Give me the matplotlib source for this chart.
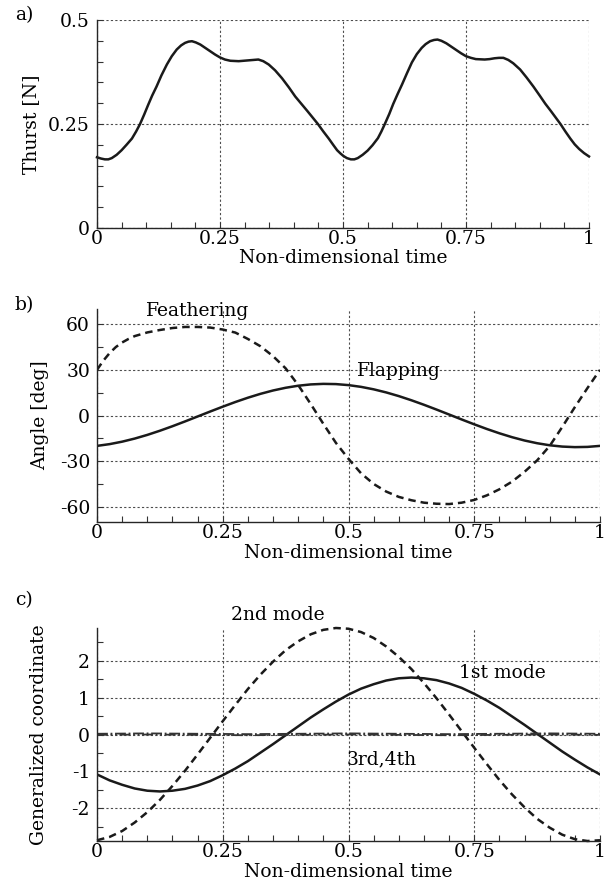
import matplotlib
matplotlib.use("Agg")
import matplotlib.pyplot as plt
from matplotlib.ticker import MultipleLocator, FormatStrFormatter
import numpy as np

plt.rcParams['font.family'] = ['DejaVu Serif']
plt.rcParams['font.size'] = 13.5
plt.rcParams['axes.unicode_minus'] = False

# a) thrust
t_thrust = [0, 0.008, 0.016, 0.023, 0.03, 0.04, 0.05, 0.06, 0.071, 0.0795, 0.0875,
            0.096, 0.104, 0.112, 0.121, 0.131, 0.142, 0.152, 0.162, 0.171, 0.179,
            0.186, 0.193, 0.201, 0.21, 0.22, 0.23, 0.24, 0.25, 0.26, 0.271, 0.288,
            0.298, 0.308, 0.318, 0.328, 0.338, 0.349, 0.362, 0.376, 0.39, 0.403,
            0.415, 0.427, 0.438, 0.449, 0.46, 0.471, 0.48, 0.488, 0.495, 0.501,
            0.508, 0.516, 0.523, 0.53, 0.54, 0.55, 0.56, 0.571, 0.578, 0.585,
            0.594, 0.602, 0.611, 0.62, 0.63, 0.64, 0.65, 0.66, 0.668, 0.677,
            0.685, 0.692, 0.70, 0.71, 0.72, 0.73, 0.74, 0.75, 0.76, 0.77, 0.788,
            0.798, 0.808, 0.817, 0.826, 0.836, 0.846, 0.86, 0.873, 0.887, 0.9,
            0.911, 0.922, 0.932, 0.942, 0.952, 0.962, 0.971, 0.98, 0.99, 1.0]
thrust = [0.170, 0.167, 0.165, 0.165, 0.168, 0.176, 0.187, 0.200, 0.215, 0.232, 0.250,
          0.273, 0.296, 0.318, 0.340, 0.367, 0.393, 0.413, 0.429, 0.439, 0.445,
          0.448, 0.449, 0.446, 0.441, 0.433, 0.425, 0.417, 0.410, 0.405, 0.402, 0.401,
          0.402, 0.403, 0.404, 0.405, 0.401, 0.393, 0.379, 0.360, 0.338, 0.316,
          0.299, 0.282, 0.266, 0.250, 0.232, 0.215, 0.200, 0.187, 0.179, 0.173,
          0.168, 0.165, 0.165, 0.168, 0.176, 0.186, 0.199, 0.216, 0.232, 0.250,
          0.274, 0.298, 0.322, 0.345, 0.372, 0.398, 0.418, 0.433, 0.442, 0.449,
          0.452, 0.453, 0.450, 0.444, 0.436, 0.428, 0.420, 0.413, 0.409, 0.406, 0.405,
          0.406, 0.408, 0.409, 0.409, 0.404, 0.396, 0.381, 0.362, 0.340, 0.318,
          0.299, 0.282, 0.266, 0.250, 0.232, 0.215, 0.201, 0.190, 0.180, 0.172]

# b) angles [deg]
t_feather = [0, 0.0125, 0.025, 0.0375, 0.05, 0.0625, 0.075, 0.1, 0.125, 0.15, 0.175,
             0.2, 0.225, 0.25, 0.275, 0.3, 0.325, 0.35, 0.375, 0.4, 0.425, 0.45,
             0.475, 0.5, 0.525, 0.55, 0.575, 0.6, 0.625, 0.65, 0.675, 0.7, 0.725,
             0.75, 0.775, 0.8, 0.825, 0.85, 0.875, 0.9, 0.925, 0.95, 0.975, 1.0]
feathering = [30.0, 36.0, 41.0, 45.0, 48.0, 50.3, 52.2, 54.6, 56.2, 57.5, 58.2,
              58.2, 57.8, 56.5, 54.5, 50.3, 45.5, 39.0, 31.0, 20.0, 7.5, -5.5,
              -18.0, -28.5, -38.0, -45.0, -50.0, -53.5, -55.7, -57.3, -58.0, -58.2, -57.3,
              -55.5, -52.5, -48.5, -43.5, -37.0, -29.5, -20.0, -7.5, 5.5, 18.0, 30.0]
t_flap = np.linspace(0, 1, 41)
flapping = [-19.97, -18.82, -17.20, -15.16, -12.75, -10.02, -7.05, -3.90, -0.65, 2.61, 5.80,
            8.86, 11.69, 14.24, 16.44, 18.22, 19.57, 20.43, 20.79, 20.64, 19.97,
            18.82, 17.20, 15.16, 12.75, 10.02, 7.05, 3.90, 0.65, -2.61, -5.80,
            -8.86, -11.69, -14.24, -16.44, -18.22, -19.57, -20.43, -20.79, -20.64, -19.97]

# c) generalized coordinates, every 0.025
t_mode = np.linspace(0, 1, 41)
mode1 = [-1.08, -1.24, -1.36, -1.46, -1.52, -1.54, -1.52, -1.47, -1.38, -1.26, -1.10,
         -0.92, -0.72, -0.49, -0.26, -0.02, 0.22, 0.46, 0.68, 0.89, 1.08,
         1.24, 1.36, 1.46, 1.52, 1.54, 1.52, 1.47, 1.38, 1.26, 1.10,
         0.92, 0.72, 0.49, 0.26, 0.02, -0.22, -0.46, -0.68, -0.89, -1.08]
mode2 = [-2.86, -2.77, -2.61, -2.38, -2.10, -1.77, -1.39, -0.98, -0.54, -0.09, 0.36,
         0.80, 1.23, 1.62, 1.97, 2.28, 2.52, 2.71, 2.83, 2.88, 2.86,
         2.77, 2.61, 2.38, 2.10, 1.77, 1.39, 0.98, 0.54, 0.09, -0.36,
         -0.80, -1.23, -1.62, -1.97, -2.28, -2.52, -2.71, -2.83, -2.88, -2.86]
t_small = np.linspace(0, 1, 11)
mode3 = [0.02, 0.03, 0.02, 0.01, 0.02, 0.03, 0.02, 0.01, 0.02, 0.03, 0.02]
mode4 = [-0.01, 0.0, -0.01, -0.02, -0.01, 0.0, -0.01, -0.02, -0.01, 0.0, -0.01]

x_ticks = [0, 0.25, 0.5, 0.75, 1]

fig = plt.figure(figsize=(6.13, 8.93), dpi=100)
W, H = 613.0, 893.0
ax_a = fig.add_axes([97 / W, 1 - 228 / H, 492 / W, 208 / H])
ax_b = fig.add_axes([97 / W, 1 - 522 / H, 503 / W, 213 / H])
ax_c = fig.add_axes([97 / W, 1 - 841 / H, 503 / W, 213 / H])


def style(ax, ylab, ylab_x, yticks, yminor):
    ax.set_xlim(0, 1)
    ax.set_xticks(x_ticks)
    ax.xaxis.set_major_formatter(FormatStrFormatter('%g'))
    ax.xaxis.set_minor_locator(MultipleLocator(0.05))
    ax.set_yticks(yticks)
    ax.yaxis.set_major_formatter(FormatStrFormatter('%g'))
    ax.yaxis.set_minor_locator(MultipleLocator(yminor))
    ax.tick_params(which='both', direction='in', color='0.2', width=0.8, length=4)
    ax.tick_params(axis='x', pad=1.5)
    ax.tick_params(axis='y', pad=5)
    for s in ['top', 'right']:
        ax.spines[s].set_visible(False)
    for s in ['left', 'bottom']:
        ax.spines[s].set_linewidth(1.0)
        ax.spines[s].set_color('0.15')
    # dotted grid on the major ticks
    ax.grid(True, which='major', color='0.3', linestyle=(0, (2, 2)), linewidth=0.8)
    ax.set_axisbelow(True)
    ax.set_xlabel('Non-dimensional time', va='center')
    ax.xaxis.set_label_coords(0.5, -31 / 213)
    ax.set_ylabel(ylab, va='center')
    ax.yaxis.set_label_coords(ylab_x, 0.5)


# a)
ax_a.plot(t_thrust, thrust, color='0.1', lw=1.8, clip_on=False)
ax_a.set_ylim(0, 0.5)
style(ax_a, 'Thurst [N]', -0.134, [0, 0.25, 0.5], 0.05)

# b)
ax_b.plot(t_feather, feathering, color='0.1', lw=1.8, linestyle=(0, (3, 2)))
ax_b.plot(t_flap, flapping, color='0.1', lw=1.8)
ax_b.set_ylim(-70, 70)
style(ax_b, 'Angle [deg]', -0.113, [-60, -30, 0, 30, 60], 15)
ax_b.text(0.2, 69, 'Feathering', ha='center', va='center')
ax_b.text(0.6, 29.5, 'Flapping', ha='center', va='center')

# c)
ax_c.plot(t_mode, mode2, color='0.1', lw=1.8, linestyle=(0, (3, 2)), clip_on=False)
ax_c.plot(t_mode, mode1, color='0.1', lw=1.8)
ax_c.plot(t_small, mode3, color='0.2', lw=1.3, linestyle=(0, (6, 1.5, 1, 1.5)))
ax_c.plot(t_small, mode4, color='0.2', lw=1.3, linestyle=(0, (6, 1.5, 1, 1.5, 1, 1.5)))
ax_c.set_ylim(-2.88, 2.88)
style(ax_c, 'Generalized coordinate', -0.116, [-2, -1, 0, 1, 2], 0.5)
ax_c.text(0.36, 3.24, '2nd mode', ha='center', va='center')
ax_c.text(0.805, 1.65, '1st mode', ha='center', va='center')
ax_c.text(0.565, -0.68, '3rd,4th', ha='center', va='center')

fig.text(24 / W, 1 - 15 / H, 'a)', ha='center', va='center')
fig.text(24 / W, 1 - 305 / H, 'b)', ha='center', va='center')
fig.text(24 / W, 1 - 600 / H, 'c)', ha='center', va='center')

fig.savefig('out.png', dpi=100)
